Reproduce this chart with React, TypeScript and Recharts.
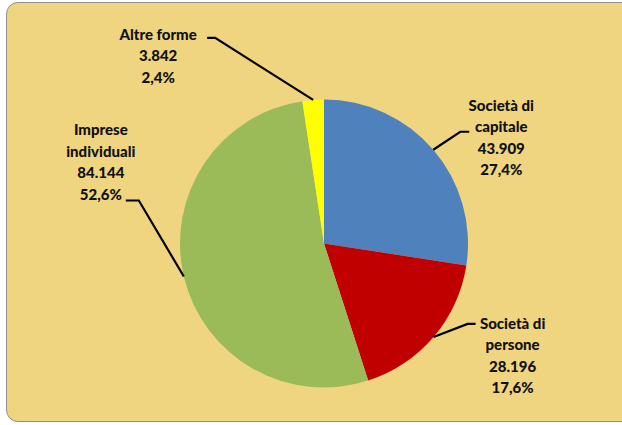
import { PieChart, Pie, Cell } from 'recharts';

const categories = ['Società di capitale', 'Società di persone', 'Imprese individuali', 'Altre forme'];
const labelLines = [
  ['Società di', 'capitale'],
  ['Società di', 'persone'],
  ['Imprese', 'individuali'],
  ['Altre forme'],
];
const values = [43909, 28196, 84144, 3842];
const colors = ['#4F81BD', '#C00000', '#9BBB59', '#FFFF00'];

// leader line elbow (from slice edge) and text block offset (from stub end)
const labelLayout = [
  { ex: 27, ey: -18, stub: 9, tx: 32, ty: -27 },
  { ex: 34, ey: -13, stub: 8, tx: 37, ty: -1 },
  { ex: -45, ey: -76, stub: -13, tx: -25, ty: -71 },
  { ex: -98, ey: -62, stub: -8, tx: -49, ty: -4 },
];

const total = values.reduce((a, b) => a + b, 0);
const data = categories.map((name, i) => ({ name, value: values[i] }));

const fmtNum = (v: number) => String(v).replace(/\B(?=(\d{3})+(?!\d))/g, '.');
const fmtPct = (v: number) => ((v / total) * 100).toFixed(1).replace('.', ',') + '%';

const RAD = Math.PI / 180;
const LINE_H = 21.5;

function renderLabel(props: any) {
  const { cx, cy, midAngle, outerRadius, index, value } = props;
  const lay = labelLayout[index];
  const x0 = cx + outerRadius * Math.cos(-midAngle * RAD);
  const y0 = cy + outerRadius * Math.sin(-midAngle * RAD);
  const x1 = x0 + lay.ex;
  const y1 = y0 + lay.ey;
  const x2 = x1 + lay.stub;
  const tx = x2 + lay.tx;
  const ty = y1 + lay.ty;
  const lines = [...labelLines[index], fmtNum(value), fmtPct(value)];
  return (
    <g key={`lbl-${index}`}>
      <polyline
        points={`${x0},${y0} ${x1},${y1} ${x2},${y1}`}
        fill="none"
        stroke="#000"
        strokeWidth={2.2}
      />
      {lines.map((t, j) => (
        <text
          key={j}
          x={tx}
          y={ty + j * LINE_H}
          textAnchor="middle"
          dominantBaseline="central"
          fontFamily="Lato, 'Open Sans', sans-serif"
          fontWeight={900}
          fontSize={15}
          fill="#111"
        >
          {t}
        </text>
      ))}
    </g>
  );
}

export default function App() {
  return (
    <div style={{ position: 'absolute', left: 0, top: 0, width: 622, height: 425, overflow: 'hidden', background: '#fff' }}>
      <div
        style={{
          position: 'absolute',
          left: 6,
          top: 2,
          width: 640,
          height: 418,
          background: '#F0D580',
          border: '1.5px solid #8F8F8F',
          borderRadius: 12,
        }}
      />
      <div style={{ position: 'absolute', left: 0, top: 0 }}>
        <PieChart width={622} height={425} margin={{ top: 0, right: 0, bottom: 0, left: 0 }}>
          <Pie
            data={data}
            dataKey="value"
            nameKey="name"
            cx={324}
            cy={243.5}
            outerRadius={144}
            startAngle={90}
            endAngle={-270}
            stroke="none"
            label={renderLabel}
            labelLine={false}
            isAnimationActive={false}
          >
            {data.map((d, i) => (
              <Cell key={d.name} fill={colors[i]} />
            ))}
          </Pie>
        </PieChart>
      </div>
    </div>
  );
}
